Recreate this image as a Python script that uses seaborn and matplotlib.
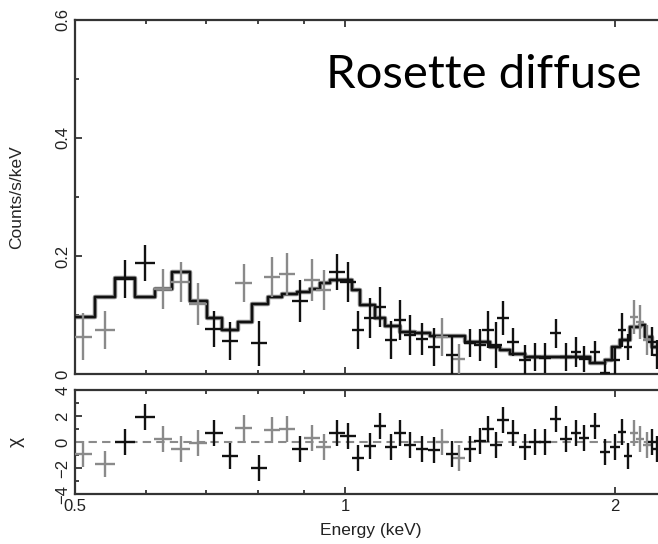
import numpy as np
import pandas as pd
import matplotlib
matplotlib.use('Agg')
import matplotlib.pyplot as plt
from matplotlib.ticker import NullFormatter
import seaborn as sns

sns.set_theme(style='ticks')
plt.rcParams['font.family'] = ['Liberation Sans', 'DejaVu Sans']

# spectrum points (keV, counts/s/keV)
energy = [0.510, 0.540, 0.569, 0.599, 0.627, 0.656, 0.686, 0.715, 0.744, 0.771,
          0.802, 0.829, 0.862, 0.891, 0.919, 0.947, 0.979, 1.008, 1.034, 1.066,
          1.094, 1.125, 1.152, 1.181, 1.219, 1.257, 1.283, 1.316, 1.340, 1.378,
          1.414, 1.443, 1.473, 1.500, 1.539, 1.587, 1.629, 1.671, 1.718, 1.764,
          1.810, 1.847, 1.900, 1.950, 2.000, 2.036, 2.068, 2.100, 2.133, 2.171,
          2.199, 2.227]
energy_err = [0.012, 0.014, 0.015, 0.015, 0.015, 0.016, 0.016, 0.016, 0.015, 0.016,
              0.017, 0.017, 0.018, 0.018, 0.019, 0.019, 0.020, 0.021, 0.016, 0.016,
              0.017, 0.017, 0.018, 0.018, 0.019, 0.019, 0.020, 0.020, 0.021, 0.021,
              0.022, 0.022, 0.023, 0.023, 0.024, 0.024, 0.025, 0.026, 0.026, 0.027,
              0.023, 0.024, 0.024, 0.025, 0.026, 0.021, 0.021, 0.022, 0.022, 0.022,
              0.023, 0.023]
counts = [0.063, 0.075, 0.161, 0.188, 0.144, 0.156, 0.119, 0.076, 0.056, 0.154,
          0.052, 0.165, 0.169, 0.124, 0.159, 0.142, 0.173, 0.156, 0.075, 0.095,
          0.114, 0.058, 0.092, 0.066, 0.059, 0.046, 0.063, 0.032, 0.025, 0.053,
          0.049, 0.075, 0.049, 0.095, 0.054, 0.024, 0.029, 0.027, 0.069, 0.029,
          0.037, 0.025, 0.037, 0.002, 0.024, 0.075, 0.046, 0.097, 0.088, 0.058,
          0.055, 0.033]
counts_err = [0.040, 0.032, 0.032, 0.031, 0.034, 0.034, 0.036, 0.031, 0.032, 0.032,
              0.038, 0.034, 0.036, 0.036, 0.036, 0.034, 0.031, 0.034, 0.032, 0.034,
              0.034, 0.032, 0.034, 0.034, 0.027, 0.032, 0.032, 0.032, 0.025, 0.024,
              0.027, 0.031, 0.039, 0.029, 0.024, 0.025, 0.024, 0.025, 0.025, 0.024,
              0.025, 0.022, 0.019, 0.015, 0.024, 0.029, 0.022, 0.029, 0.029, 0.025,
              0.025, 0.025]
detector = ['g', 'g', 'k', 'k', 'g', 'g', 'g', 'k', 'k', 'g',
            'k', 'g', 'g', 'k', 'g', 'g', 'k', 'k', 'k', 'k',
            'k', 'k', 'k', 'k', 'k', 'k', 'g', 'k', 'g', 'k',
            'k', 'k', 'k', 'k', 'k', 'k', 'k', 'k', 'k', 'k',
            'k', 'k', 'k', 'k', 'k', 'k', 'k', 'g', 'g', 'g',
            'k', 'k']
chi = [-0.9, -1.7, 0.0, 1.9, 0.2, -0.5, -0.1, 0.7, -1.1, 1.1,
       -2.0, 0.9, 1.0, -0.5, 0.3, -0.4, 0.7, 0.5, -1.2, -0.3,
       1.2, -0.4, 0.7, -0.2, -0.5, -0.6, 0.0, -0.9, -1.2, -0.5,
       0.1, 1.0, -0.2, 1.7, 0.7, -0.4, 0.0, 0.0, 1.8, 0.2,
       0.7, 0.3, 1.2, -0.8, -0.4, 0.8, -1.1, 0.7, 0.2, -0.2,
       0.0, -0.5]

# folded model (bin edges in keV, counts/s/keV)
model_edges = [0.500, 0.526, 0.554, 0.583, 0.614, 0.641, 0.672, 0.702, 0.729, 0.760,
               0.788, 0.821, 0.851, 0.884, 0.914, 0.938, 0.962, 1.000, 1.018, 1.039,
               1.080, 1.108, 1.152, 1.197, 1.244, 1.361, 1.451, 1.489, 1.527, 1.587,
               1.876, 1.950, 1.985, 2.026, 2.079, 2.133, 2.160, 2.199, 2.234]
model_counts = [0.097, 0.130, 0.163, 0.130, 0.144, 0.173, 0.124, 0.095, 0.075, 0.088,
                0.119, 0.130, 0.136, 0.139, 0.144, 0.154, 0.159, 0.159, 0.142, 0.117,
                0.095, 0.081, 0.071, 0.069, 0.064, 0.054, 0.046, 0.041, 0.034, 0.029,
                0.019, 0.024, 0.046, 0.058, 0.080, 0.083, 0.063, 0.046]

df = pd.DataFrame({'E': energy, 'dE': energy_err, 'rate': counts,
                   'drate': counts_err, 'det': detector, 'chi': chi})
model = pd.DataFrame({'E': model_edges,
                      'rate': model_counts + [model_counts[-1]]})

colors = {'k': '#111111', 'g': '#8a8a8a'}

fig = plt.figure(figsize=(6.58, 5.44), dpi=100)
ax1 = fig.add_axes([0.114, 0.3125, 0.95, 0.651])
ax2 = fig.add_axes([0.114, 0.0919, 0.95, 0.191])

# model steps
sns.lineplot(data=model, x='E', y='rate', ax=ax1, color='#8a8a8a', lw=3.2,
             drawstyle='steps-post', zorder=2)
sns.lineplot(data=model, x='E', y='rate', ax=ax1, color='#111111', lw=1.7,
             drawstyle='steps-post', zorder=3)

for det in ['g', 'k']:
    sub = df[df['det'] == det]
    ax1.errorbar(sub['E'], sub['rate'], xerr=sub['dE'], yerr=sub['drate'],
                 fmt='none', ecolor=colors[det], elinewidth=1.7, capsize=0, zorder=4)
    ax2.errorbar(sub['E'], sub['chi'], xerr=sub['dE'], yerr=1.0,
                 fmt='none', ecolor=colors[det], elinewidth=1.7, capsize=0, zorder=4)

ax2.axhline(0, color='#8a8a8a', lw=1.5, ls=(0, (4, 2.5)), zorder=1)

for ax in (ax1, ax2):
    ax.set_xscale('log')
    ax.set_xlim(0.5, 2.49)
    ax.set_xticks([0.5, 1, 2])
    ax.set_xticks([0.6, 0.7, 0.8, 0.9], minor=True)
    ax.xaxis.set_minor_formatter(NullFormatter())
    ax.tick_params(which='both', direction='in', top=True, right=False,
                   colors='#222222', labelsize=12)
    ax.tick_params(which='major', length=5, width=1.2)
    ax.tick_params(which='minor', length=3, width=1.2)
    for s in ax.spines.values():
        s.set_color('#333333')
        s.set_linewidth(1.6)
    ax.set_xlabel('')
    ax.set_ylabel('')

ax1.set_ylim(0, 0.6)
ax1.set_yticks([0, 0.2, 0.4, 0.6])
ax1.set_yticklabels(['0', '0.2', '0.4', '0.6'], rotation=90, va='center')
ax1.set_yticks([0.1, 0.3, 0.5], minor=True)
ax1.set_xticklabels([])
ax1.set_ylabel('Counts/s/keV', fontsize=12.5)
ax1.yaxis.set_label_coords(-0.082, 0.5)

ax2.set_ylim(-4, 4)
ax2.set_yticks([-4, -2, 0, 2, 4])
ax2.set_yticklabels(['\u22124', '\u22122', '0', '2', '4'], rotation=90, va='center')
ax2.set_yticks([-3, -1, 1, 3], minor=True)
ax2.set_xticklabels(['0.5', '1', '2'])
ax2.set_ylabel('\u03c7', fontsize=14)
ax2.yaxis.set_label_coords(-0.08, 0.5)
fig.text(371 / 658, 1 - 530 / 544, 'Energy (keV)', fontsize=12.5,
         ha='center', va='center', color='#222222')

fig.text(326 / 658, 1 - 88 / 544, 'Rosette diffuse', fontsize=34,
         family=['Lato', 'DejaVu Sans'], ha='left', va='baseline', color='black')

fig.savefig('out.png', dpi=100)
